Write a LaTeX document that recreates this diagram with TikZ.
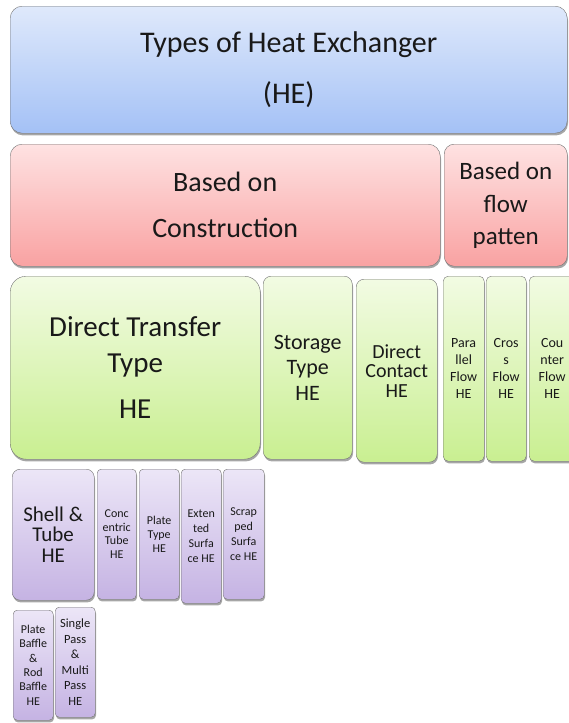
\documentclass[tikz,border=0pt]{standalone}
\usepackage{fontspec}
\setmainfont{Carlito}
\usetikzlibrary{shadows}

\definecolor{heBlueTop}{HTML}{DFE9FB}
\definecolor{heBlueBot}{HTML}{A4C1F6}
\definecolor{heRedTop}{HTML}{FEE2E2}
\definecolor{heRedBot}{HTML}{F9A2A2}
\definecolor{heGreenTop}{HTML}{F2FBE3}
\definecolor{heGreenBot}{HTML}{C9EF91}
\definecolor{hePurpleTop}{HTML}{ECE6F7}
\definecolor{hePurpleBot}{HTML}{C5B3E3}

\tikzset{
  hebox/.style={draw=black!55, thin, rounded corners=#1, anchor=north west,
    align=center, inner sep=0pt, text=black!90,
    drop shadow={shadow xshift=0.8pt, shadow yshift=-2.2pt, opacity=0.35, fill=black}},
  hebox/.default=6pt,
  hefont/.style 2 args={font=\fontsize{#1}{#2}\selectfont},
  levelA/.style={top color=heBlueTop, bottom color=heBlueBot},
  levelB/.style={top color=heRedTop, bottom color=heRedBot},
  levelC/.style={top color=heGreenTop, bottom color=heGreenBot},
  levelD/.style={top color=hePurpleTop, bottom color=hePurpleBot},
}

\begin{document}
\begin{tikzpicture}[x=1pt, y=-1pt]
  \useasboundingbox (0,0) rectangle (569,723);
  % top level
  \node[hebox=12pt, levelA, hefont={30}{51}, minimum width=557pt, minimum height=127pt]
    (types) at (10,6) {Types of Heat Exchanger\\(HE)};
  % construction / flow pattern
  \node[hebox=12pt, levelB, hefont={28}{46}, minimum width=430pt, minimum height=122pt]
    (construction) at (10,144) {Based on\\Construction};
  \node[hebox=10pt, levelB, hefont={25}{32}, minimum width=123pt, minimum height=122pt]
    (flowpat) at (444,144) {Based on\\[1pt]flow\\patten};
  % construction types
  \node[hebox=16pt, levelC, hefont={29}{36}, minimum width=250pt, minimum height=183pt]
    (direct) at (10,276) {Direct Transfer\\Type\\[10pt]HE};
  \node[hebox=8pt, levelC, hefont={22}{25.5}, minimum width=89pt, minimum height=183pt]
    (storage) at (263,276) {Storage\\Type\\HE};
  \node[hebox=8pt, levelC, hefont={20}{19.5}, minimum width=81pt, minimum height=183pt]
    (contact) at (356,279) {Direct\\Contact\\HE};
  % flow arrangements
  \node[hebox=5pt, levelC, hefont={14}{17}, minimum width=41pt, minimum height=185pt]
    (parallel) at (443,276) {Para\\llel\\Flow\\HE};
  \node[hebox=5pt, levelC, hefont={14}{17}, minimum width=40pt, minimum height=185pt]
    (cross) at (486,276) {Cros\\s\\Flow\\HE};
  \node[hebox=5pt, levelC, hefont={14}{17}, minimum width=46pt, minimum height=185pt]
    (counter) at (529,276) {Cou\\nter\\Flow\\HE};
  % direct transfer types
  \node[hebox=8pt, levelD, hefont={21}{20.5}, minimum width=82pt, minimum height=131pt]
    (shell) at (12,469) {Shell \&\\Tube\\HE};
  \node[hebox=4pt, levelD, hefont={12}{13.5}, minimum width=39pt, minimum height=130pt]
    (concentric) at (97,469) {Conc\\entric\\Tube\\HE};
  \node[hebox=4pt, levelD, hefont={12}{14}, minimum width=40pt, minimum height=130pt]
    (plate) at (139,469) {Plate\\Type\\HE};
  \node[hebox=4pt, levelD, hefont={12}{15}, minimum width=40pt, minimum height=134pt]
    (extended) at (181,469) {Exten\\ted\\Surfa\\ce HE};
  \node[hebox=4pt, levelD, hefont={12}{15}, minimum width=41pt, minimum height=130pt]
    (scrapped) at (223,469) {Scrap\\ped\\Surfa\\ce HE};
  % shell and tube types
  \node[hebox=4pt, levelD, hefont={12}{14.3}, minimum width=40pt, minimum height=110pt]
    (baffle) at (13,610) {Plate\\Baffle\\\&\\Rod\\Baffle\\HE};
  \node[hebox=4pt, levelD, hefont={12.5}{15.6}, minimum width=40pt, minimum height=110pt]
    (pass) at (55,607) {Single\\Pass\\\&\\Multi\\Pass\\HE};
\end{tikzpicture}
\end{document}
